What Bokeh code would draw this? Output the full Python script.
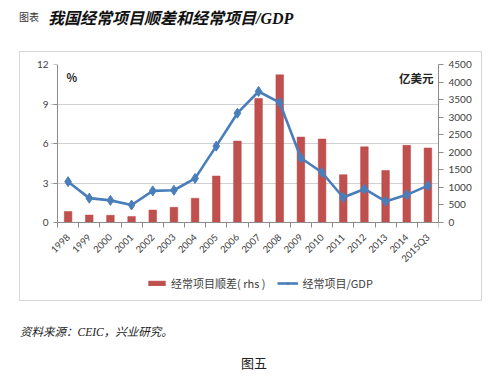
from bokeh.plotting import figure
from bokeh.models import (LinearAxis, Range1d, FixedTicker, Label, Legend, LegendItem,
                          ColumnDataSource, Div)
from bokeh.layouts import column
from bokeh.embed import file_html
from bokeh.resources import INLINE

# ---- data ----
years = ["1998", "1999", "2000", "2001", "2002", "2003", "2004", "2005", "2006",
         "2007", "2008", "2009", "2010", "2011", "2012", "2013", "2014", "2015Q3"]
surplus = [315, 211, 205, 174, 354, 431, 689, 1324, 2318,
           3531, 4206, 2433, 2378, 1361, 2154, 1482, 2197, 2122]   # 亿美元 (rhs)
ca_gdp = [3.1, 1.85, 1.68, 1.33, 2.4, 2.45, 3.35, 5.8, 8.3,
          9.95, 9.1, 4.9, 3.8, 1.9, 2.55, 1.6, 2.1, 2.8]            # %
left_ticks = [0, 3, 6, 9, 12]
right_ticks = [0, 500, 1000, 1500, 2000, 2500, 3000, 3500, 4000, 4500]
LMAX, RMAX = 12, 4500

n = len(years)
centers = [i + 0.5 for i in range(n)]
bounds = [i for i in range(n + 1)]
src = ColumnDataSource(dict(x=centers, surplus=surplus, ca=ca_gdp))

CJK = "Noto Sans CJK SC"
TICK_FONT = "Lato"
LBL_COLOR = "#404040"
AX_COLOR = "#8C8C8C"

# layout geometry (pixels)
AXIS_PX, BELOW_PX = 158, 78     # value-axis height, room under the zero line
AXIS_W, LEFT_PAD = 381, 7       # category-axis width, room left of the value axis
lo_frac = BELOW_PX / AXIS_PX

p = figure(width=461, height=248,
           x_range=Range1d(-n * LEFT_PAD / AXIS_W, n),
           y_range=Range1d(-LMAX * lo_frac, LMAX),
           output_backend="svg", toolbar_location=None,
           min_border_left=30, min_border_right=43, min_border_top=12, min_border_bottom=0,
           background_fill_color="white", border_fill_color="white",
           margin=(0, 0, 0, 20), styles={"outline": "1.5px solid #D6D6D6"})
p.outline_line_color = None
p.extra_y_ranges = {"rhs": Range1d(-RMAX * lo_frac, RMAX)}

# left axis: labels (in the side panel)
ya = p.yaxis[0]
ya.ticker = FixedTicker(ticks=left_ticks)
ya.axis_line_color = None
ya.major_tick_line_color = None
ya.minor_tick_line_color = None
ya.major_tick_out = 0
ya.major_tick_in = 0
ya.major_label_standoff = 2
ya.major_label_text_font = TICK_FONT
ya.major_label_text_font_size = "10px"
ya.major_label_text_color = LBL_COLOR

# left axis: line and ticks, pinned at the first category edge
yl = LinearAxis(fixed_location=0, ticker=FixedTicker(ticks=left_ticks), bounds=(0, LMAX))
yl.major_tick_in = 0
yl.major_tick_out = 4
yl.minor_tick_in = 0
yl.minor_tick_out = 0
yl.axis_line_color = AX_COLOR
yl.major_tick_line_color = AX_COLOR
yl.major_label_text_color = None
p.add_layout(yl, "left")

# right axis
ra = LinearAxis(y_range_name="rhs", ticker=FixedTicker(ticks=right_ticks), bounds=(0, RMAX))
ra.major_tick_in = 0
ra.major_tick_out = 5
ra.minor_tick_in = 0
ra.minor_tick_out = 0
ra.axis_line_color = AX_COLOR
ra.major_tick_line_color = AX_COLOR
ra.major_label_text_font = TICK_FONT
ra.major_label_text_font_size = "10px"
ra.major_label_text_color = LBL_COLOR
p.add_layout(ra, "right")

# bottom (category) axis, pinned at the zero line
xa = p.xaxis[0]
xa.fixed_location = 0
xa.bounds = (0, n)
xa.ticker = FixedTicker(ticks=centers, minor_ticks=bounds)
xa.major_label_overrides = {c: y for c, y in zip(centers, years)}
xa.major_tick_in = 0
xa.major_tick_out = 0
xa.minor_tick_in = 0
xa.minor_tick_out = 5
xa.minor_tick_line_color = AX_COLOR
xa.axis_line_color = AX_COLOR
xa.major_label_orientation = 0.785398
xa.major_label_text_font = TICK_FONT
xa.major_label_text_font_size = "9.5px"
xa.major_label_text_color = LBL_COLOR
xa.major_label_standoff = 8

p.xgrid.visible = False
p.ygrid.ticker = FixedTicker(ticks=left_ticks[1:])
p.ygrid.grid_line_color = "#D0D0D0"
p.ygrid.grid_line_width = 1

bars = p.vbar(x="x", top="surplus", width=0.36, source=src, y_range_name="rhs",
              fill_color="#C0504D", line_color="#B8474A", line_width=0.5)
ln = p.line(x="x", y="ca", source=src, line_width=2.6, line_color="#4A7EBB")
mk = p.scatter(x="x", y="ca", source=src, marker="diamond", size=10,
               fill_color="#4A7EBB", line_color="#4A7EBB")

leg = Legend(items=[LegendItem(label="经常项目顺差( rhs )", renderers=[bars]),
                    LegendItem(label="经常项目/GDP", renderers=[ln, mk])],
             orientation="horizontal", location=(96, 9),
             border_line_alpha=0, background_fill_alpha=0, padding=0, margin=0,
             spacing=12, glyph_width=21, glyph_height=6, label_standoff=4,
             label_height=12,
             label_text_font=CJK, label_text_font_size="11px",
             label_text_color="#404040")
p.add_layout(leg)

for txt, x, y, size, align in [("%", 9 + LEFT_PAD, 146 + BELOW_PX, "11px", "left"),
                               ("亿美元", 376 + LEFT_PAD, 145 + BELOW_PX, "11.5px", "right")]:
    p.add_layout(Label(x=x, y=y, x_units="screen", y_units="screen", text=txt,
                       text_font=CJK, text_font_size=size, text_font_style="bold",
                       text_color="#222222", text_align=align, text_baseline="middle"))

title_div = Div(width=499, height=52, margin=(0, 0, 0, 0), text=(
    '<div style="position:relative;width:499px;height:52px;">'
    '<span style="position:absolute;left:19px;top:11px;font-family:\'Noto Sans CJK SC\';'
    'font-size:10px;line-height:12px;color:#333;white-space:nowrap;">图表</span>'
    '<span style="position:absolute;left:48px;top:9px;font-family:\'Liberation Serif\',\'Noto Sans CJK SC\';'
    'font-size:16px;line-height:19px;font-weight:bold;font-style:italic;color:#111;'
    'white-space:nowrap;">我国经常项目顺差和经常项目/GDP</span></div>'))

src_div = Div(width=499, height=44, margin=(0, 0, 0, 0), text=(
    '<div style="position:relative;width:499px;height:44px;">'
    '<span style="position:absolute;left:20px;top:25px;font-family:\'Liberation Serif\',\'Noto Sans CJK SC\';'
    'font-size:11.5px;line-height:14px;font-style:italic;color:#222;white-space:nowrap;">'
    '资料来源：CEIC，兴业研究。</span></div>'))

fig_div = Div(width=499, height=36, margin=(0, 0, 0, 0), text=(
    '<div style="position:relative;width:499px;height:36px;">'
    '<span style="position:absolute;left:241px;top:11px;font-family:\'Noto Sans CJK SC\';'
    'font-size:13px;line-height:16px;color:#222;white-space:nowrap;">图五</span></div>'))

layout = column(title_div, p, src_div, fig_div, spacing=0)

open("out.html", "w").write(file_html(layout, INLINE))
